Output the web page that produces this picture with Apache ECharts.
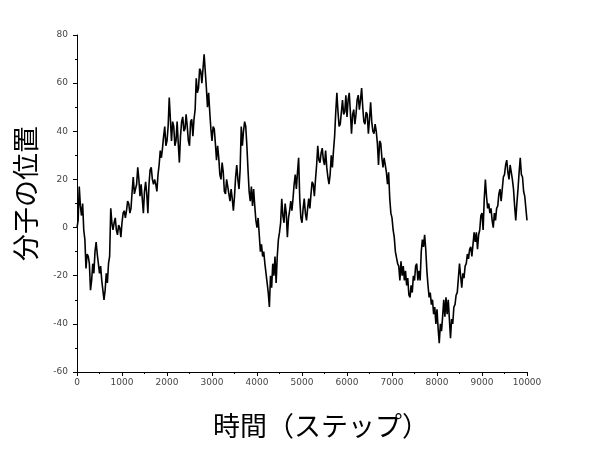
<!DOCTYPE html>
<html>
<head>
<meta charset="utf-8">
<script src="https://cdn.jsdelivr.net/npm/echarts@6/dist/echarts.min.js"></script>
<style>
    html, body {margin: 0; padding: 0; background: #fff;}
    #main {width: 600px; height: 450px;}
</style>
</head>
<body>
<div id="main"></div>
<script>
// 粒子の位置（25ステップごとに読み取った値）
var stepGap = 25;
var walk0to2000 = [
    0, 3, 17, 9, 5, 10, -1, -5, -17, -11, -12, -15, -26, -22, -15, -19,
    -10, -6, -11, -15, -19, -16, -22, -26, -30, -26, -19, -23, -15, -12, 8, 2,
    -1, 2, 4, -1, -3, 1, 0, -4, 2, 6, 7, 4, 7, 11, 10, 6,
    8, 15, 21, 14, 14, 18, 25, 20, 13, 18, 12, 6, 15, 19, 14, 6,
    18, 24, 25, 20, 18, 20, 18, 15, 22, 26, 32, 29, 33, 38, 42, 34
];
var walk2000to4000 = [
    36, 42, 54, 45, 36, 44, 42, 34, 36, 44, 35, 27, 38, 44, 46, 40,
    41, 47, 42, 36, 34, 44, 45, 38, 45, 49, 62, 56, 58, 66, 65, 60,
    66, 72, 65, 58, 50, 56, 48, 41, 36, 42, 41, 35, 28, 34, 29, 22,
    20, 27, 23, 15, 14, 20, 20, 14, 11, 16, 12, 7, 13, 21, 26, 20,
    16, 24, 42, 34, 40, 44, 42, 34, 24, 15, 11, 17, 9, 16, 9, 3
];
var walk4000to6000 = [
    0, 4, -3, -10, -7, -12, -10, -15, -15, -23, -27, -33, -20, -25, -15, -20,
    -12, -23, -12, -5, -2, 2, 12, 5, 2, 10, 6, -4, 4, 7, 11, 7,
    12, 18, 22, 16, 23, 29, 12, 4, 2, 8, 12, 6, 3, 8, 12, 8,
    14, 19, 18, 13, 20, 26, 34, 28, 27, 31, 33, 28, 26, 32, 25, 21,
    18, 22, 30, 25, 32, 38, 48, 56, 48, 42, 43, 48, 53, 47, 48, 55
];
var walk6000to8000 = [
    46, 53, 56, 48, 39, 47, 49, 43, 47, 53, 55, 49, 53, 58, 50, 44,
    43, 48, 47, 39, 45, 52, 44, 40, 39, 43, 40, 35, 26, 36, 35, 29,
    25, 29, 29, 23, 18, 23, 12, 6, 4, -1, -4, -10, -10, -15, -16, -22,
    -14, -20, -16, -22, -18, -24, -21, -28, -29, -24, -27, -20, -22, -16, -15, -22,
    -18, -22, -10, -5, -8, -3, -9, -18, -24, -29, -27, -32, -30, -36, -33, -40
];
var walk8000to10000 = [
    -34, -42, -48, -40, -43, -37, -30, -37, -29, -36, -30, -38, -46, -38, -40, -33,
    -32, -28, -27, -21, -15, -20, -25, -19, -21, -16, -15, -11, -13, -9, -8, -12,
    -7, -2, -6, -2, -9, -3, -1, 5, 6, -1, 12, 20, 13, 8, 10, 6,
    8, 3, 0, 6, 3, 8, 9, 14, 16, 11, 16, 21, 22, 26, 28, 23,
    20, 26, 26, 20, 16, 9, 3, 10, 16, 23, 29, 22, 21, 15, 13, 8,
    3
];

var position = [].concat(walk0to2000, walk2000to4000, walk4000to6000, walk6000to8000, walk8000to10000);
var lineData = [];
for (var i = 0; i < position.length; i++) {
    lineData.push([i * stepGap, position[i]]);
}

var labelFont = 'DejaVu Sans';
var nameFont = '"Noto Sans CJK JP", "Noto Sans CJK SC", sans-serif';

var myChart = echarts.init(document.getElementById('main'));
myChart.setOption({
    animation: false,
    grid: {left: 77, right: 73, top: 35, bottom: 78, containLabel: false, outerBoundsMode: 'none'},
    xAxis: {
        type: 'value',
        min: 0,
        max: 10000,
        interval: 1000,
        name: '時間（ステップ）',
        nameLocation: 'middle',
        nameGap: 40,
        nameTextStyle: {fontFamily: nameFont, fontSize: 27, color: '#000', padding: [0, 0, 0, 38]},
        axisLine: {onZero: false, lineStyle: {color: '#000', width: 1}},
        axisTick: {show: true, inside: false, length: 4, lineStyle: {color: '#000'}},
        minorTick: {show: true, splitNumber: 2, length: 2, lineStyle: {color: '#000'}},
        axisLabel: {
            fontFamily: labelFont, fontSize: 9, color: '#444', margin: 6,
            formatter: function (v) { return String(v); }
        },
        splitLine: {show: false}
    },
    yAxis: {
        type: 'value',
        min: -60,
        max: 80,
        interval: 20,
        name: '分子の位置',
        nameLocation: 'middle',
        nameRotate: 90,
        nameGap: 38,
        nameTextStyle: {fontFamily: nameFont, fontSize: 27, color: '#000', padding: [0, 0, 0, 20]},
        axisLine: {show: true, onZero: false, lineStyle: {color: '#000', width: 1}},
        axisTick: {show: true, inside: false, length: 4, lineStyle: {color: '#000'}},
        minorTick: {show: true, splitNumber: 2, length: 2, lineStyle: {color: '#000'}},
        axisLabel: {fontFamily: labelFont, fontSize: 9, color: '#444', margin: 9},
        splitLine: {show: false}
    },
    series: [
        {
            type: 'line',
            data: lineData,
            showSymbol: false,
            symbol: 'none',
            lineStyle: {color: '#000', width: 1.6},
            silent: true
        }
    ]
});
</script>
</body>
</html>
